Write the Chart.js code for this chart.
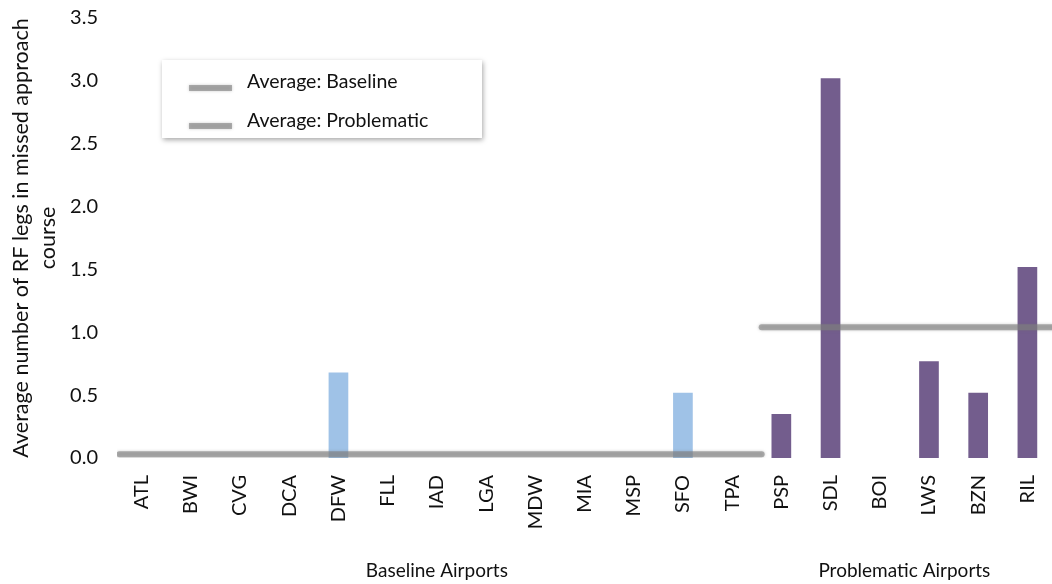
<!DOCTYPE html>
<html>
<head>
<meta charset="utf-8">
<script src="https://cdn.jsdelivr.net/npm/chart.js@4.4.1/dist/chart.umd.min.js"></script>
<style>
  html, body { margin: 0; padding: 0; background: #fff; }
  #wrap { width: 1052px; height: 584px; position: relative; }
</style>
</head>
<body>
<div id="wrap"><canvas id="chart"></canvas></div>
<script>
// airports, baseline group first then problematic group
const baselineAirports = ["ATL", "BWI", "CVG", "DCA", "DFW", "FLL", "IAD", "LGA", "MDW", "MIA", "MSP", "SFO", "TPA"];
const problematicAirports = ["PSP", "SDL", "BOI", "LWS", "BZN", "RIL"];
const baselineValues = [0, 0, 0, 0, 0.68, 0, 0, 0, 0, 0, 0, 0.52, 0];
const problematicValues = [0.35, 3.02, 0, 0.77, 0.52, 1.52];
const averageBaseline = 0.03;
const averageProblematic = 1.04;
const yTicks = [0, 0.5, 1.0, 1.5, 2.0, 2.5, 3.0, 3.5];
const groupLabels = ["Baseline Airports", "Problematic Airports"];

const FONT = "Lato, 'Open Sans', sans-serif";
const labels = baselineAirports.concat(problematicAirports);
const nB = baselineAirports.length;
const n = labels.length;
const split = nB - 0.4; // where one average line hands over to the other

const baseData = labels.map((_, i) => i < nB ? baselineValues[i] : null);
const probData = labels.map((_, i) => i >= nB ? problematicValues[i - nB] : null);

// custom legend box + group titles under the axis
const extras = {
    id: "extras",
    afterDraw(chart) {
        const ctx = chart.ctx;
        const x = chart.scales.x;
        // group labels
        ctx.save();
        ctx.fillStyle = "#111";
        ctx.font = "19px " + FONT;
        ctx.textAlign = "center";
        ctx.textBaseline = "middle";
        const c1 = (x.getPixelForValue(0) + x.getPixelForValue(nB - 1)) / 2;
        const c2 = (x.getPixelForValue(nB) + x.getPixelForValue(n - 1)) / 2;
        ctx.fillText(groupLabels[0], c1, 571);
        ctx.fillText(groupLabels[1], c2, 571);
        ctx.restore();

        // legend
        ctx.save();
        ctx.shadowColor = "rgba(0,0,0,0.35)";
        ctx.shadowBlur = 5;
        ctx.shadowOffsetX = 1;
        ctx.shadowOffsetY = 2;
        ctx.fillStyle = "#fff";
        ctx.fillRect(162, 60, 320, 78);
        ctx.restore();

        ctx.save();
        ctx.strokeStyle = "rgba(128,128,128,0.6)";
        ctx.lineWidth = 6;
        ctx.shadowColor = "rgba(110,110,110,0.6)";
        ctx.shadowBlur = 3;
        [88, 126].forEach(y => {
            ctx.beginPath();
            ctx.moveTo(189, y);
            ctx.lineTo(232, y);
            ctx.stroke();
        });
        ctx.restore();

        ctx.save();
        ctx.fillStyle = "#111";
        ctx.font = "19.5px " + FONT;
        ctx.textBaseline = "middle";
        ctx.fillText("Average: Baseline", 247, 82);
        ctx.fillText("Average: Problematic", 247, 121);
        ctx.restore();
    }
};

const lineShadow = {
    id: "lineShadow",
    beforeDatasetDraw(chart, args) {
        if (chart.data.datasets[args.index].type === "line") {
            chart.ctx.save();
            chart.ctx.shadowColor = "rgba(110,110,110,0.6)";
            chart.ctx.shadowBlur = 3;
        }
    },
    afterDatasetDraw(chart, args) {
        if (chart.data.datasets[args.index].type === "line") {
            chart.ctx.restore();
        }
    }
};

new Chart(document.getElementById("chart"), {
    data: {
        labels: labels,
        datasets: [
            {
                type: "bar",
                label: "Baseline",
                data: baseData,
                backgroundColor: "#9fc2e7",
                barPercentage: 0.8,
                categoryPercentage: 0.5,
                grouped: false,
                order: 2
            },
            {
                type: "bar",
                label: "Problematic",
                data: probData,
                backgroundColor: "#735d8d",
                barPercentage: 0.8,
                categoryPercentage: 0.5,
                grouped: false,
                order: 2
            },
            {
                type: "line",
                label: "Average: Baseline",
                xAxisID: "x2",
                data: [{ x: -0.45, y: averageBaseline }, { x: split, y: averageBaseline }],
                borderColor: "rgba(128,128,128,0.6)",
                borderWidth: 6,
                borderCapStyle: "round",
                pointRadius: 0,
                order: 0
            },
            {
                type: "line",
                label: "Average: Problematic",
                xAxisID: "x2",
                data: [{ x: split, y: averageProblematic }, { x: n - 0.5, y: averageProblematic }],
                borderColor: "rgba(128,128,128,0.6)",
                borderWidth: 6,
                borderCapStyle: "round",
                pointRadius: 0,
                order: 0
            }
        ]
    },
    options: {
        responsive: true,
        maintainAspectRatio: false,
        animation: false,
        layout: { autoPadding: false, padding: { top: 18, right: 0, bottom: 36, left: 8 } },
        plugins: {
            legend: { display: false },
            tooltip: { enabled: false }
        },
        scales: {
            x: {
                type: "category",
                grid: { display: false, drawTicks: false },
                border: { display: false },
                afterFit(axis) {
                    axis.height = 90;
                    axis.paddingLeft = 0;
                    axis.paddingRight = 0;
                },
                ticks: {
                    color: "#111",
                    font: { size: 20, family: FONT },
                    minRotation: 90,
                    maxRotation: 90,
                    padding: 17
                }
            },
            x2: {
                type: "linear",
                display: false,
                min: -0.5,
                max: n - 0.5
            },
            y: {
                min: 0,
                max: 3.5,
                grid: { display: false, drawTicks: false },
                border: { display: false },
                afterFit(axis) {
                    axis.width = 109;
                    axis.paddingTop = 0;
                    axis.paddingBottom = 0;
                },
                afterBuildTicks(axis) {
                    axis.ticks = yTicks.map(v => ({ value: v }));
                },
                ticks: {
                    color: "#111",
                    font: { size: 20, family: FONT },
                    padding: 19,
                    callback: v => Number(v).toFixed(1)
                },
                title: {
                    display: true,
                    text: ["Average number of RF legs in missed approach", "course"],
                    color: "#111",
                    font: { size: 21.5, family: FONT, lineHeight: 1.25 },
                    padding: 0
                }
            }
        }
    },
    plugins: [lineShadow, extras]
});
</script>
</body>
</html>
